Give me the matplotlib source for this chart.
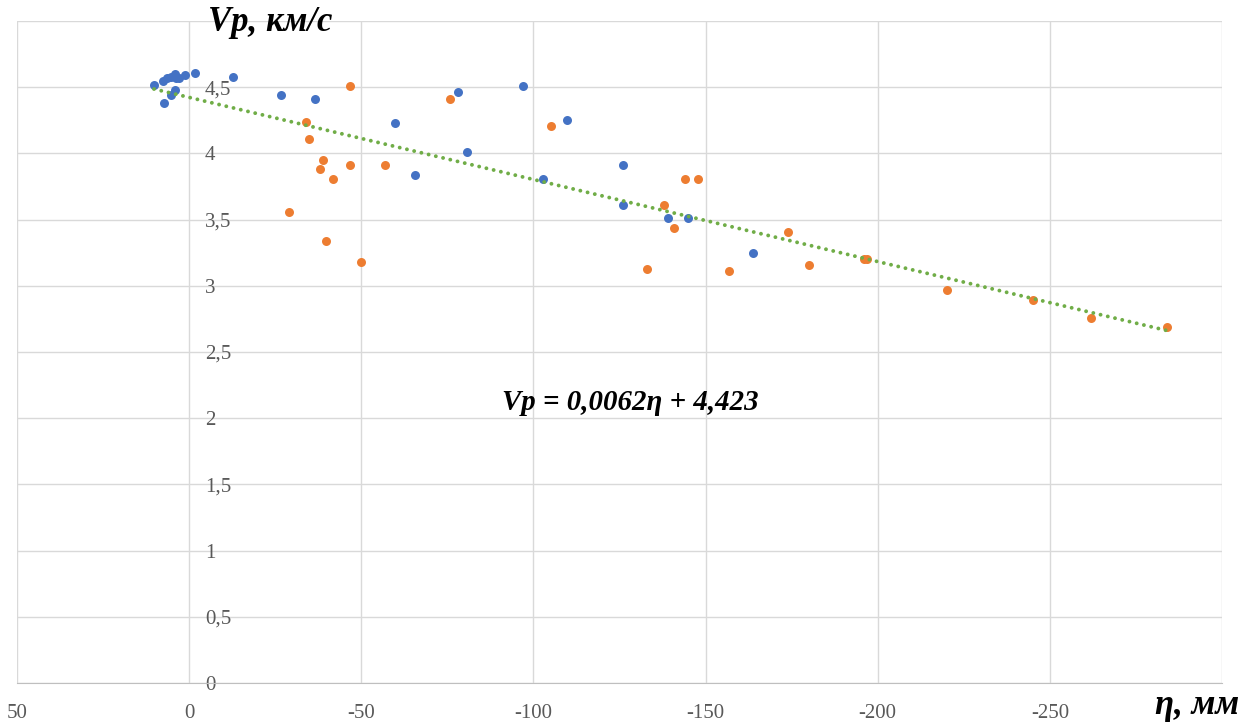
import matplotlib
matplotlib.use("Agg")
import matplotlib.pyplot as plt
import numpy as np

# deformation eta (mm) and P-wave velocity (km/s), two sample groups
eta_blue = [10.2, 7.5, 6.3, 5.3, 4.2, 3.9, 3.0, 1.2, -1.7, 7.3, 5.2, 4.2,
            -12.7, -26.7, -36.7, -59.9, -65.7, -78.0, -80.8, -96.9, -102.8,
            -109.8, -126.0, -126.0, -139.1, -144.9, -163.9]
vp_blue = [4.52, 4.55, 4.57, 4.58, 4.60, 4.57, 4.57, 4.59, 4.61, 4.38, 4.44, 4.48,
           4.58, 4.44, 4.41, 4.23, 3.84, 4.46, 4.01, 4.51, 3.81,
           4.25, 3.91, 3.61, 3.51, 3.51, 3.25]

eta_orange = [-28.9, -34.0, -34.8, -37.9, -39.0, -39.8, -41.7, -46.7, -46.8, -49.9,
              -56.8, -75.7, -105.0, -132.9, -137.9, -140.9, -144.0, -147.9, -156.9,
              -173.9, -180.1, -196.1, -196.9, -220.0, -245.0, -262.0, -284.0]
vp_orange = [3.56, 4.24, 4.11, 3.88, 3.95, 3.34, 3.81, 3.91, 4.51, 3.18,
             3.91, 4.41, 4.21, 3.13, 3.61, 3.44, 3.81, 3.81, 3.11,
             3.41, 3.16, 3.20, 3.20, 2.97, 2.89, 2.76, 2.69]

# linear trend Vp = a*eta + b
a, b = 0.0062, 4.423

x_ticks = [50, 0, -50, -100, -150, -200, -250]
y_ticks = np.arange(0, 5.01, 0.5)

serif = "Liberation Serif"
grid_c = "#d9d9d9"
label_c = "#595959"

fig = plt.figure(figsize=(12.58, 7.22), dpi=100)
ax = fig.add_axes([17 / 1258, 1 - 683 / 722, (1222 - 17) / 1258, (683 - 21) / 722])

ax.set_xlim(50, -300)
ax.set_ylim(0, 5)

# last gridline (-300) and top gridline (5) carry no label
ax.set_xticks(np.arange(50, -301, -50))
ax.set_xticklabels([str(t) for t in x_ticks] + [""])
ax.set_yticks(y_ticks)
ylabels = ["0"] + [("%g" % v).replace(".", ",") for v in y_ticks[1:]]
ylabels[-1] = ""
ax.set_yticklabels(ylabels)

ax.grid(True, color=grid_c, linewidth=1.0)
ax.set_axisbelow(True)

# y-axis crosses at eta = 0, labels sit on its right side
ax.yaxis.tick_right()
ax.spines["right"].set_position(("data", 0))
ax.spines["right"].set_visible(False)
ax.spines["left"].set_visible(False)
ax.spines["top"].set_visible(False)
ax.spines["bottom"].set_color("#bfbfbf")
ax.tick_params(axis="both", length=0, labelsize=15, labelcolor=label_c)
ax.tick_params(axis="y", pad=11.5)
ax.tick_params(axis="x", pad=15)
for lab in ax.get_xticklabels() + ax.get_yticklabels():
    lab.set_fontfamily(serif)
for lab in ax.get_yticklabels():
    lab.set_horizontalalignment("left")

ax.scatter(eta_blue, vp_blue, s=42, color="#4472C4", zorder=3, linewidths=0)
ax.scatter(eta_orange, vp_orange, s=42, color="#ED7D31", zorder=3, linewidths=0)

all_eta = np.array(eta_blue + eta_orange)
xt = np.array([all_eta.max(), all_eta.min()])
ax.plot(xt, a * xt + b, color="#70AD47", linewidth=2.8,
        linestyle=(0, (0.01, 1.9)), dash_capstyle="round", zorder=4)

ax.text((502 - 17) / 1205, (683 - 402) / 662, "Vp = 0,0062η + 4,423",
        transform=ax.transAxes, fontfamily=serif, fontsize=20.8,
        fontweight="bold", fontstyle="italic", ha="left", va="center")

fig.text(208 / 1258, 1 - 6 / 722, "Vp, км/с", fontfamily=serif, fontsize=25,
         fontweight="bold", fontstyle="italic", ha="left", va="top")
fig.text(1197 / 1258, 1 - 706 / 722, "η, мм", fontfamily=serif, fontsize=25,
         fontweight="bold", fontstyle="italic", ha="center", va="center")

fig.savefig("out.png", dpi=100)
